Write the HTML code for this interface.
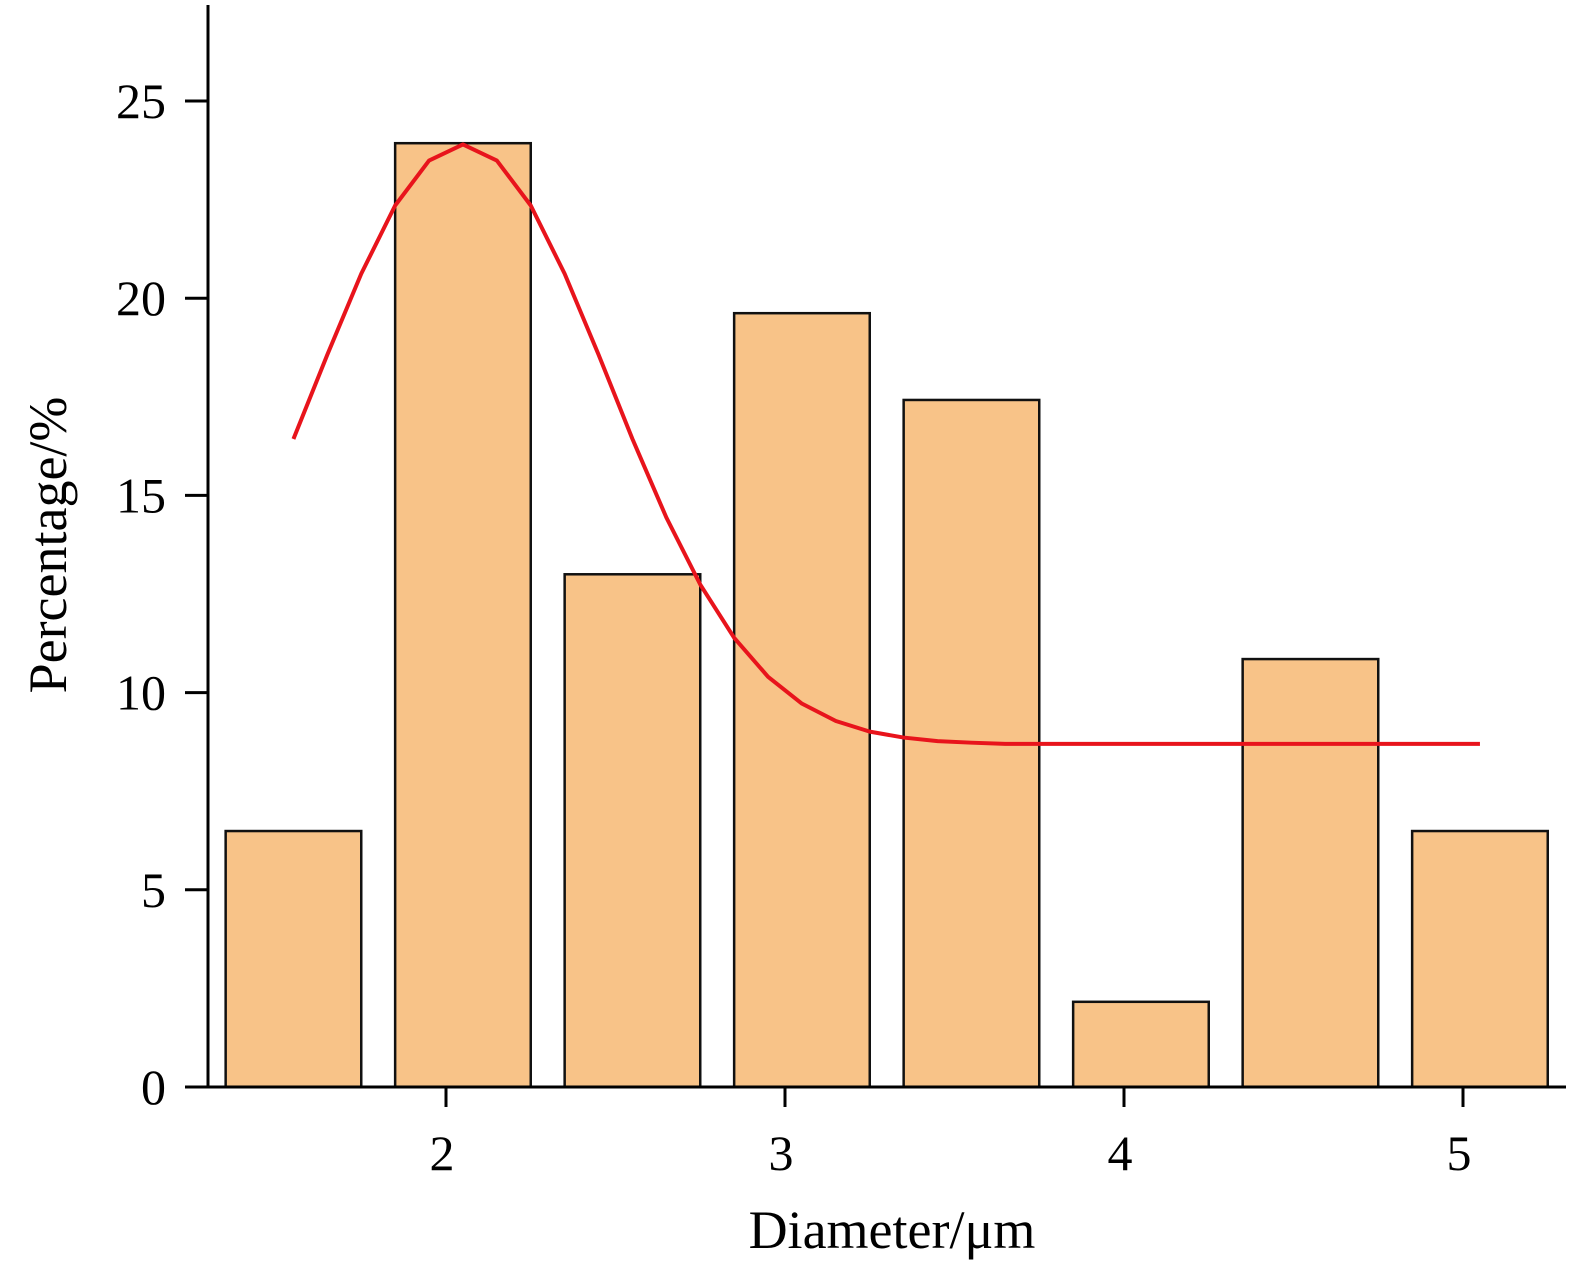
<!DOCTYPE html>
<html><head><meta charset="utf-8"><style>
body{margin:0;background:#fff;}
svg{display:block;font-family:"Liberation Serif",serif;}
</style></head><body>
<svg id="chart" width="1569" height="1269" viewBox="0 0 1569 1269">
<g id="bars"></g>
<g id="fit"></g>
<g id="axes"></g>
<text x="892" y="1248" font-size="54" text-anchor="middle">Diameter/μm</text>
<text transform="translate(66,545) rotate(-90)" font-size="54" text-anchor="middle">Percentage/%</text>
</svg>
<script>
const binCenters=[1.55,2.05,2.55,3.05,3.55,4.05,4.55,5.05];
const binValues=[6.49,23.93,13.0,19.62,17.42,2.16,10.85,6.49];
const fitX=[1.55,1.65,1.75,1.85,1.95,2.05,2.15,2.25,2.35,2.45,2.55,2.65,2.75,2.85,2.95,3.05,3.15,3.25,3.35,3.45,3.55,3.65,4.05,4.55,5.05];
const fitY=[16.43,18.57,20.62,22.35,23.49,23.9,23.49,22.35,20.62,18.57,16.43,14.44,12.74,11.39,10.40,9.72,9.28,9.01,8.86,8.77,8.73,8.7,8.7,8.7,8.7];
const xTicks=[2,3,4,5];
const yTicks=[0,5,10,15,20,25];
const NS="http://www.w3.org/2000/svg";
const xs=v=>446+(v-2)*339;
const ys=v=>1087-v*39.44;
const binW=0.4;
function mk(t,a,p){const e=document.createElementNS(NS,t);for(const k in a)e.setAttribute(k,a[k]);p.appendChild(e);return e;}
const bars=document.getElementById('bars');
binCenters.forEach((c,i)=>{
 const r=mk('rect',{x:xs(c-binW/2),y:ys(binValues[i]),width:binW*339,height:ys(0)-ys(binValues[i]),fill:'#f8c388',stroke:'#111','stroke-width':2.5},bars);
 
 
});
const fit=document.getElementById('fit');
const pl=mk('polyline',{points:fitX.map((x,i)=>xs(x)+','+ys(fitY[i])).join(' '),fill:'none',stroke:'#e8141c','stroke-width':4,'stroke-linejoin':'round'},fit);


const axes=document.getElementById('axes');
const ya=mk('line',{x1:208,y1:5,x2:208,y2:1088,stroke:'#000','stroke-width':3},axes);


const xa=mk('line',{x1:185,y1:1087,x2:1566,y2:1087,stroke:'#000','stroke-width':3},axes);


yTicks.forEach(v=>{
 const t=mk('line',{x1:185,y1:ys(v),x2:208,y2:ys(v),stroke:'#000','stroke-width':3},axes);
 
 
 const l=mk('text',{x:166,y:ys(v)+17,'font-size':50,'text-anchor':'end'},axes);
 l.textContent=v;
 
 
});
xTicks.forEach(v=>{
 const t=mk('line',{x1:xs(v),y1:1087,x2:xs(v),y2:1107,stroke:'#000','stroke-width':3},axes);
 
 
 const l=mk('text',{x:xs(v)-4,y:1170,'font-size':50,'text-anchor':'middle'},axes);
 l.textContent=v;
 
 
});
</script>
</body></html>
